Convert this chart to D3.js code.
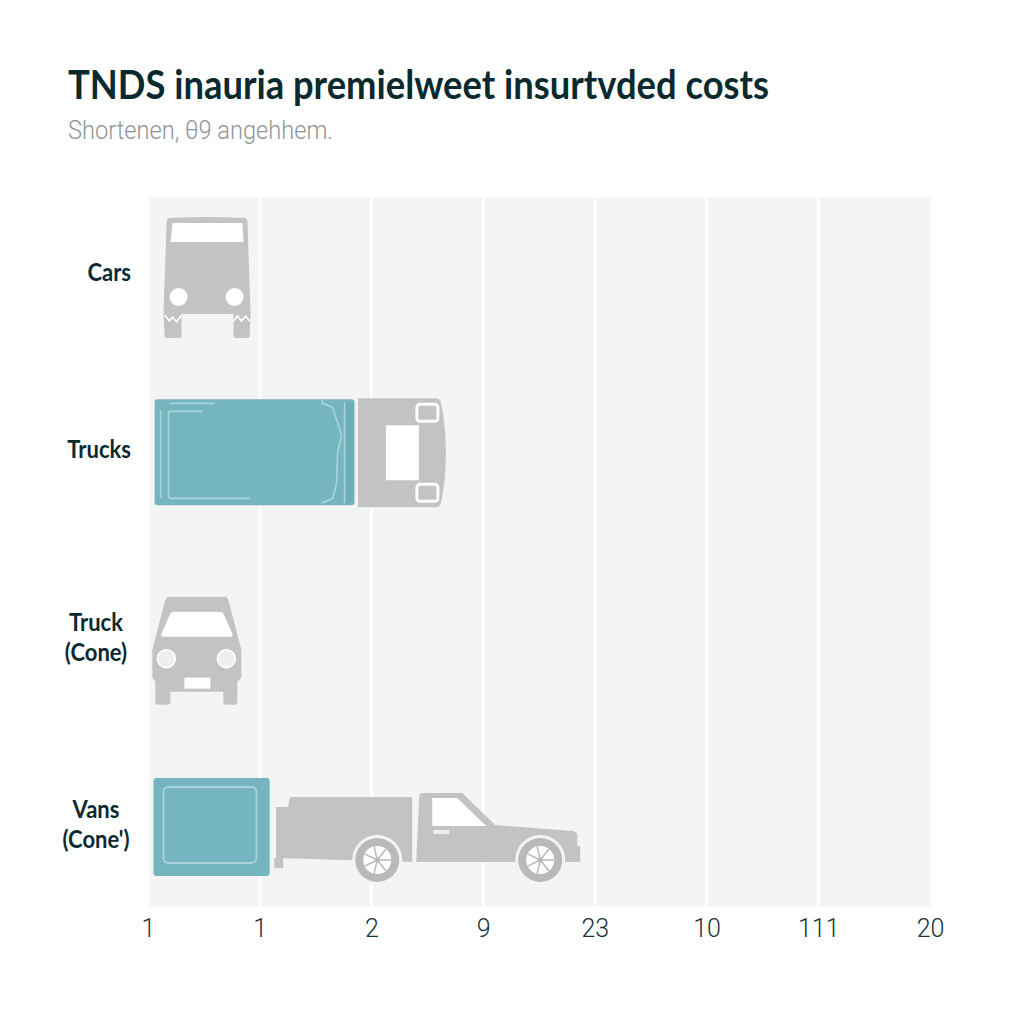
<!DOCTYPE html>
<html>
<head>
<meta charset="utf-8">
<title>Chart</title>
<script src="https://cdn.jsdelivr.net/npm/d3@7"></script>
<style>
    html, body { margin: 0; padding: 0; background: #fff; }
    svg { display: block; }
    .title { font-family: Lato, sans-serif; font-weight: 700; fill: #0b2a30; }
    .subtitle { font-family: Roboto, sans-serif; font-weight: 300; fill: #8f9494; }
    .rowlabel { font-family: Lato, sans-serif; font-weight: 700; fill: #0b2a30; }
    .x-axis text { font-family: Roboto, sans-serif; font-weight: 300; fill: #14333a; }
</style>
</head>
<body>
<div id="container"></div>
<script>
// chart data
var titleText = "TNDS inauria premielweet insurtvded costs";
var subtitleText = "Shortenen, θ9 angehhem.";
var categories = ["Cars", "Trucks", "Truck (Cone)", "Vans (Cone)"];
var categoryLines = [["Cars"], ["Trucks"], ["Truck", "(Cone)"], ["Vans", "(Cone')"]];
var tickLabels = ["1", "1", "2", "9", "23", "10", "111", "20"];

// bars run from barStart to barEnd, in tick positions (null means no bar)
var barStart = [null, 0.05, null, 0.04];
var barEnd = [null, 1.84, null, 1.08];
var barSize = [0, 106, 0, 98];

// where each vehicle picture starts, in tick positions
var iconStart = [0.13, 1.87, 0.03, 1.13];

var width = 1024, height = 1024;
var margin = { top: 197, right: 93, bottom: 117, left: 149 };
var grey = "#c3c3c3", teal = "#74b5bf", tealDark = "#6cafb9", tealLine = "#a9d5da", plotBg = "#f3f5f4";

var svg = d3.select("#container").append("svg")
    .attr("width", width)
    .attr("height", height);

// scales
var x = d3.scaleLinear().domain([0, tickLabels.length - 1]).range([margin.left, width - margin.right]);
var y = d3.scalePoint().domain(categories).range([271, 827]);

// title and subtitle
svg.append("text").attr("class", "title")
    .attr("x", 68).attr("y", 99)
    .attr("font-size", 41)
    .attr("textLength", 701).attr("lengthAdjust", "spacingAndGlyphs")
    .text(titleText);

svg.append("text").attr("class", "subtitle")
    .attr("x", 68).attr("y", 139)
    .attr("font-size", 25)
    .attr("textLength", 265).attr("lengthAdjust", "spacingAndGlyphs")
    .text(subtitleText);

// plot background
svg.append("rect")
    .attr("x", margin.left).attr("y", margin.top)
    .attr("width", width - margin.left - margin.right)
    .attr("height", height - margin.top - margin.bottom)
    .attr("fill", plotBg);

// white gridlines between the columns
svg.selectAll("line.grid")
    .data(d3.range(1, tickLabels.length - 1))
    .enter().append("line")
    .attr("class", "grid")
    .attr("x1", function(d) { return x(d) - 1; })
    .attr("x2", function(d) { return x(d) - 1; })
    .attr("y1", margin.top)
    .attr("y2", height - margin.bottom)
    .attr("stroke", "#fff")
    .attr("stroke-width", 2.5);

// x axis, only the labels are visible
var xAxis = d3.axisBottom(x)
    .tickValues(d3.range(tickLabels.length))
    .tickFormat(function(d) { return tickLabels[d]; })
    .tickSize(0)
    .tickPadding(12);

var axisGroup = svg.append("g")
    .attr("class", "x-axis")
    .attr("transform", "translate(-1," + (height - margin.bottom) + ")")
    .call(xAxis);
axisGroup.select(".domain").remove();
axisGroup.selectAll("text").attr("font-size", 25).attr("font-family", "Roboto, sans-serif");

// row labels: one line sits right aligned, two lines are centered
var labelShift = [2, -6, -4, -2];
categories.forEach(function(cat, i) {
    var lines = categoryLines[i];
    var label = svg.append("text")
        .attr("class", "rowlabel")
        .attr("font-size", 25)
        .attr("text-anchor", lines.length == 1 ? "end" : "middle");
    lines.forEach(function(line, j) {
        var span = label.append("tspan")
            .attr("x", lines.length == 1 ? 131 : 96)
            .attr("y", y(cat) + labelShift[i] + 8 + (j - (lines.length - 1) / 2) * 30)
            .text(line);

        // the reference type is narrower than Lato
        span.attr("lengthAdjust", "spacingAndGlyphs")
            .attr("textLength", span.node().getComputedTextLength() * 0.88);
    });
});

// vehicle pictures, drawn around a local origin (left edge, row center)
function drawBus(g) {
    g.append("path").attr("fill", grey)
        .attr("d", "M5,-53 Q44,-55 82,-53 Q84,-52 84,-48 L87,43 L86,65 Q86,67 83,67 L72,67 Q70,67 70,65 L70,43 L18,43 L18,65 Q18,67 16,67 L3,67 Q1,67 1,65 L0,43 L3,-48 Q3,-52 5,-53 Z");
    g.append("path").attr("fill", "#fff")
        .attr("d", "M9,-48 L79,-48 L80,-29 L7,-29 Z");
    g.selectAll("circle").data([15, 71]).enter().append("circle")
        .attr("cx", function(d) { return d; }).attr("cy", 26).attr("r", 9).attr("fill", "#fff");
    g.selectAll("path.zig").data([
        "M1,44 L6,50 L9,46 L13,51 L18,44",
        "M70,50 L74,45 L78,50 L82,45 L86,50"
    ]).enter().append("path").attr("class", "zig")
        .attr("d", function(d) { return d; })
        .attr("fill", "none").attr("stroke", "#fff").attr("stroke-width", 1.5);
}

function drawCab(g) {
    g.append("path").attr("fill", grey)
        .attr("d", "M0,-58 L78,-58 Q82,-58 83,-54 Q88,-30 88,-4 Q88,25 83,47 Q82,51 78,51 L0,51 Z");
    g.append("rect").attr("x", 28).attr("y", -31).attr("width", 33).attr("height", 55)
        .attr("rx", 1).attr("fill", "#fff");
    g.selectAll("rect.mirror").data([-52, 28]).enter().append("rect")
        .attr("class", "mirror")
        .attr("x", 59).attr("y", function(d) { return d; })
        .attr("width", 21).attr("height", 17).attr("rx", 3)
        .attr("fill", grey).attr("stroke", "#fff").attr("stroke-width", 3);
}

function drawVan(g) {
    g.append("path").attr("fill", grey)
        .attr("d", "M17,-45 L73,-45 Q76,-44 77,-38 L89,8 L89,36 L85,40 L85,60 Q85,63 82,63 L74,63 Q71,63 71,60 L71,50 L18,50 L18,60 Q18,63 15,63 L6,63 Q3,63 3,60 L3,40 L0,36 L0,8 L12,-38 Q13,-45 17,-45 Z");
    g.append("path").attr("fill", "#fff")
        .attr("d", "M22,-30 L67,-30 Q71,-30 72,-26 L80,-8 Q81,-5 78,-5 L11,-5 Q8,-5 9,-8 L17,-26 Q18,-30 22,-30 Z");
    g.selectAll("circle").data([14, 74]).enter().append("circle")
        .attr("cx", function(d) { return d; }).attr("cy", 17).attr("r", 9)
        .attr("fill", "#eee").attr("stroke", "#fff").attr("stroke-width", 1.5);
    g.append("rect").attr("x", 32).attr("y", 36).attr("width", 26).attr("height", 11).attr("fill", "#fff");
}

function drawPickup(g) {
    g.append("path").attr("fill", grey)
        .attr("d", "M1,-20 L13,-20 L14,-28 Q14,-30 16,-30 L135,-30 Q137,-30 137,-28 L137,35 L1,31 Z");
    g.append("rect").attr("x", -1).attr("y", 31).attr("width", 9).attr("height", 10).attr("fill", grey);
    g.append("path").attr("fill", grey)
        .attr("d", "M141,35 L144,-31 Q144,-34 147,-34 L187,-34 L220,-2 L298,4 Q302,5 302,8 L302,18 L305,20 L305,35 Z");
    g.append("path").attr("fill", "#fff")
        .attr("d", "M157,-29 L182,-29 L211,-1 L157,-1 Z");
    g.append("rect").attr("x", 158).attr("y", 3).attr("width", 16).attr("height", 4).attr("fill", "#eee");

    // wheels with a few spokes
    [102, 265].forEach(function(cx) {
        var wheel = g.append("g").attr("transform", "translate(" + cx + ",33)");
        wheel.append("circle").attr("r", 25).attr("fill", plotBg);
        wheel.append("circle").attr("r", 22).attr("fill", "#b9b9b9");
        wheel.append("circle").attr("r", 14).attr("fill", "#fff");
        wheel.selectAll("line").data(d3.range(7)).enter().append("line")
            .attr("x2", function(d) { return 14 * Math.cos(d * 2 * Math.PI / 7); })
            .attr("y2", function(d) { return 14 * Math.sin(d * 2 * Math.PI / 7); })
            .attr("stroke", "#b9b9b9").attr("stroke-width", 1.5);
        wheel.append("circle").attr("r", 2.5).attr("fill", "#b9b9b9");
    });
}

var iconDrawers = [drawBus, drawCab, drawVan, drawPickup];

// details printed on the bars
function detailTruckBar(g) {
    g.append("rect").attr("x", 190).attr("y", -54).attr("width", 9).attr("height", 101).attr("fill", tealDark);
    g.append("path").attr("fill", "none").attr("stroke", tealLine).attr("stroke-width", 1.6)
        .attr("d", "M6,-46 L6,42 M15,-53 L60,-53 M48,-45 L16,-45 Q14,-45 14,-43 L14,40 Q14,42 16,42 L95,42 M167,-56 L168,-53 L178,-49 L187,-21 L183,-3 L182,27 L178,42 L167,47 M190,-54 L190,47");
}

function detailVanBar(g) {
    g.append("rect").attr("x", 10).attr("y", -40).attr("width", 93).attr("height", 76).attr("rx", 5)
        .attr("fill", "none").attr("stroke", tealLine).attr("stroke-width", 1.8);
}

var barDetails = [null, detailTruckBar, null, detailVanBar];

// bars and pictures for each row
categories.forEach(function(cat, i) {
    if (barEnd[i] !== null) {
        var barX = x(barStart[i]);
        var barTop = y(cat) + 49 - barSize[i];
        svg.append("rect").attr("class", "bar")
            .attr("x", barX).attr("y", barTop)
            .attr("width", x(barEnd[i]) - barX)
            .attr("height", barSize[i])
            .attr("rx", 3)
            .attr("fill", teal);
        barDetails[i](svg.append("g").attr("transform", "translate(" + barX + "," + y(cat) + ")"));
    }
    var icon = svg.append("g").attr("transform", "translate(" + x(iconStart[i]) + "," + y(cat) + ")");
    iconDrawers[i](icon);
});
</script>
</body>
</html>
